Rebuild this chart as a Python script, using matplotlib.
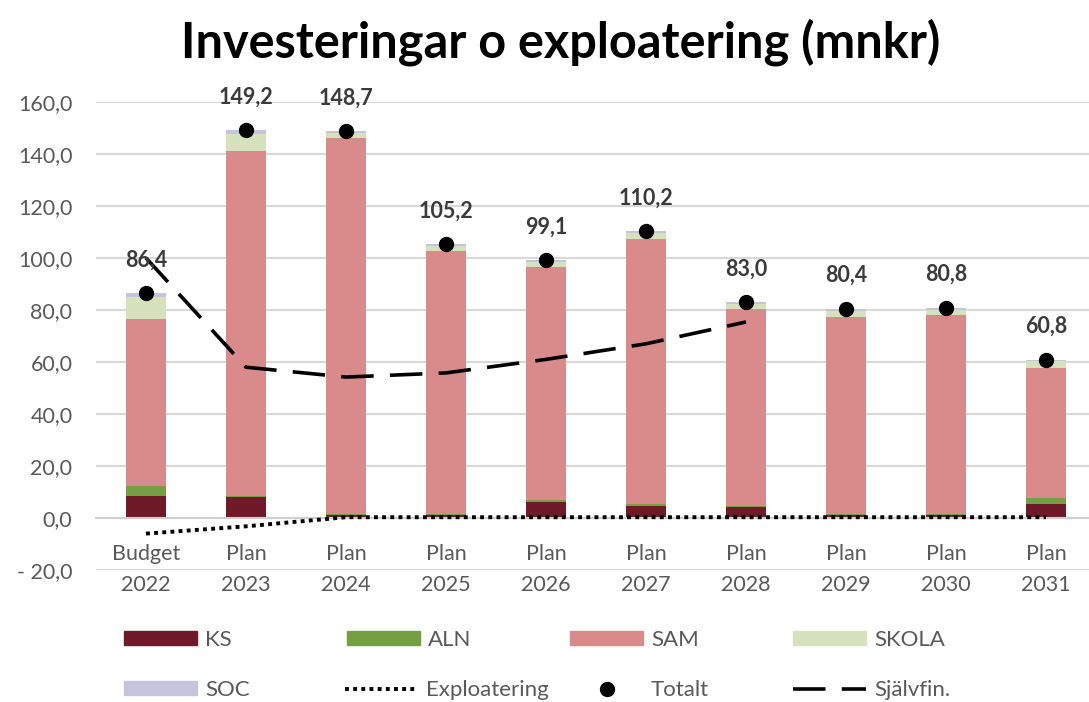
import matplotlib
matplotlib.use('Agg')
import matplotlib.pyplot as plt
from matplotlib.patches import Patch
from matplotlib.lines import Line2D
import numpy as np

plt.rcParams['font.family'] = ['Lato', 'DejaVu Sans']

# data (mnkr)
kategorier = ['Budget\n2022', 'Plan\n2023', 'Plan\n2024', 'Plan\n2025', 'Plan\n2026',
              'Plan\n2027', 'Plan\n2028', 'Plan\n2029', 'Plan\n2030', 'Plan\n2031']
ks = [8.5, 8.0, 1.2, 1.0, 6.0, 4.5, 4.3, 1.0, 1.0, 5.3]
aln = [3.8, 0.5, 0.4, 0.5, 1.0, 1.0, 0.5, 0.6, 0.6, 2.5]
sam = [64.2, 132.7, 144.6, 101.2, 89.5, 101.8, 75.7, 75.9, 76.3, 50.0]
skola = [8.5, 6.5, 1.8, 2.0, 2.0, 2.2, 2.0, 2.2, 2.2, 2.5]
soc = [1.4, 1.5, 0.7, 0.5, 0.6, 0.7, 0.5, 0.7, 0.7, 0.5]
totalt = [86.4, 149.2, 148.7, 105.2, 99.1, 110.2, 83.0, 80.4, 80.8, 60.8]
exploatering = [-6.0, -3.2, 0.3, 0.3, 0.3, 0.3, 0.3, 0.3, 0.3, 0.3]
sjalvfin = [100.0, 58.0, 54.2, 55.8, 61.0, 67.0, 75.4]  # 2022-2028

yticks = [-20, 0, 20, 40, 60, 80, 100, 120, 140, 160]
ytick_labels = ['- 20,0', '0,0', '20,0', '40,0', '60,0', '80,0', '100,0', '120,0', '140,0', '160,0']

serier = [('KS', ks, '#6e1a28'), ('ALN', aln, '#74a043'), ('SAM', sam, '#d98a8a'),
          ('SKOLA', skola, '#d6e2bd'), ('SOC', soc, '#c5c4dd')]

txtgray = '#595959'
dotted = (0, (1.0, 1.1))
dashed = (0, (9, 4.5))

fig = plt.figure(figsize=(10.89, 7.02), dpi=100)
ax = fig.add_axes([96/1089, 1 - 570/702, 1000/1089, 468/702])

x = np.arange(len(kategorier))
bottom = np.zeros(len(x))
for namn, vals, col in serier:
    ax.bar(x, vals, width=0.4, bottom=bottom, color=col, zorder=2)
    bottom += np.array(vals)

ax.plot(x, exploatering, color='black', lw=2.8, ls=dotted, zorder=3)
ax.plot(x[:len(sjalvfin)], sjalvfin, color='black', lw=2.6, ls=dashed, zorder=3)
ax.plot(x, totalt, 'o', color='black', ms=10, zorder=4)

for xi, v in zip(x, totalt):
    ax.annotate('{:.1f}'.format(v).replace('.', ','), (xi, v), xytext=(0, 24),
                textcoords='offset points', ha='center', va='center',
                fontsize=15.5, fontweight='bold', color='#3a3a3a', zorder=5)

# category labels sit just under the zero line, like the Excel original
for xi, lab in zip(x, kategorier):
    ax.annotate(lab, (xi, 0), xytext=(0, -19), textcoords='offset points',
                ha='center', va='top', fontsize=15.5, color=txtgray,
                linespacing=1.65, annotation_clip=False)

ax.set_xlim(-0.5, 9.5)
ax.set_ylim(-20, 160)
ax.set_yticks(yticks)
ax.set_yticklabels(ytick_labels)
ax.set_xticks([])
ax.tick_params(axis='both', length=0, labelsize=15.5, labelcolor=txtgray)
ax.tick_params(axis='y', pad=17)

ax.yaxis.grid(True, color='#d9d9d9', lw=1.5, zorder=0)
ax.set_axisbelow(True)
for s in ['top', 'right', 'left']:
    ax.spines[s].set_visible(False)
ax.spines['bottom'].set_position(('data', 0))
ax.spines['bottom'].set_color('#d0d0d0')
ax.spines['bottom'].set_linewidth(1.5)

fig.text(561/1089, 1 - 42/702, 'Investeringar o exploatering (mnkr)',
         ha='center', va='center', fontsize=35, fontweight='bold', color='black')

# legend, one entry at a time to match the spacing of the original
poster = [
    (Patch(color='#6e1a28'), 'KS', 124, 640),
    (Patch(color='#74a043'), 'ALN', 347, 640),
    (Patch(color='#d98a8a'), 'SAM', 570, 640),
    (Patch(color='#d6e2bd'), 'SKOLA', 793, 640),
    (Patch(color='#c5c4dd'), 'SOC', 124, 690),
    (Line2D([], [], color='black', lw=2.8, ls=dotted), 'Exploatering', 345, 690),
    (Line2D([], [], color='black', marker='o', ms=10, ls='none'), 'Totalt', 570, 690),
    (Line2D([], [], color='black', lw=2.6, ls=dashed), 'Självfin.', 793, 690),
]
for h, lab, px, py in poster:
    lg = fig.legend(handles=[h], labels=[lab], loc='center left',
                    bbox_to_anchor=(px/1089, 1 - py/702), frameon=False,
                    fontsize=16, handlelength=3.3, handleheight=0.6,
                    handletextpad=0.35, borderpad=0, borderaxespad=0)
    for t in lg.get_texts():
        t.set_color(txtgray)

fig.savefig('out.png', dpi=100)
